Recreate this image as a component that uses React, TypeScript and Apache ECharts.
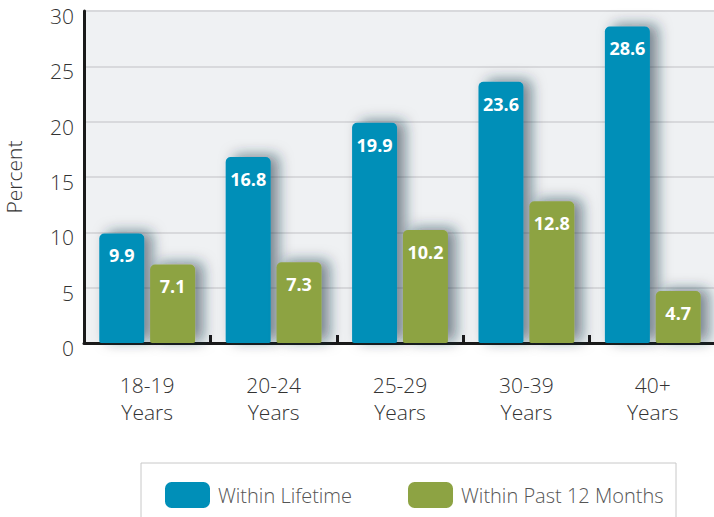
import React, { useEffect, useRef } from "react";
import * as echarts from "echarts";

const categories = ["18-19\nYears", "20-24\nYears", "25-29\nYears", "30-39\nYears", "40+\nYears"];
const lifetime = [9.9, 16.8, 19.9, 23.6, 28.6];
const past12 = [7.1, 7.3, 10.2, 12.8, 4.7];
const seriesNames = ["Within Lifetime", "Within Past 12 Months"];

const FONT = "'Open Sans', 'Noto Sans', sans-serif";
const BLUE = "#008fb8";
const GREEN = "#8da343";
const TEXT = "#333333";

export default function App() {
  const ref = useRef<HTMLDivElement>(null);

  useEffect(() => {
    if (!ref.current) return;
    const chart = echarts.init(ref.current, undefined, { renderer: "svg" });

    const barStyle = (color: string) => ({
      color,
      borderRadius: [5, 5, 2, 2],
      shadowColor: "rgba(20, 45, 60, 0.55)",
      shadowBlur: 14,
      shadowOffsetX: 8,
      shadowOffsetY: -2,
    });

    const barLabel = {
      show: true,
      position: "insideTop" as const,
      distance: 13,
      color: "#ffffff",
      fontFamily: FONT,
      fontWeight: "bold" as const,
      fontSize: 18,
      formatter: (p: any) => Number(p.value).toFixed(1),
    };

    chart.setOption({
      animation: false,
      backgroundColor: "#ffffff",
      grid: {
        show: true,
        left: 84,
        top: 11,
        width: 632,
        height: 332,
        outerBoundsMode: "none",
        containLabel: false,
        backgroundColor: "#eff1f3",
        borderWidth: 0,
      },
      legend: {
        left: 160,
        top: 477,
        itemWidth: 45,
        itemHeight: 26,
        itemGap: 56,
        icon: "roundRect",
        textStyle: { fontFamily: FONT, fontWeight: 300, fontSize: 20, color: "#555555", padding: [0, 0, 0, 3] },
        data: seriesNames,
      },
      graphic: [
        {
          type: "rect",
          shape: { x: 141, y: 463, width: 535, height: 80 },
          style: { fill: "none", stroke: "#c8c8c8", lineWidth: 1 },
          z: -1,
        },
      ],
      xAxis: {
        type: "category",
        data: categories,
        axisLine: { show: true, lineStyle: { color: "#1a1a1a", width: 3 } },
        axisTick: { show: true, inside: true, length: 8, lineStyle: { color: "#1a1a1a", width: 3 } },
        axisLabel: {
          fontFamily: FONT,
          fontWeight: 300,
          fontSize: 21,
          color: TEXT,
          lineHeight: 27,
          margin: 28,
        },
      },
      yAxis: {
        type: "value",
        min: 0,
        max: 30,
        interval: 5,
        name: "Percent",
        nameLocation: "middle",
        nameGap: 60,
        nameTextStyle: { fontFamily: FONT, fontWeight: 300, fontSize: 21, color: TEXT },
        axisLine: { show: true, lineStyle: { color: "#1a1a1a", width: 3 } },
        axisTick: { show: false },
        axisLabel: {
          fontFamily: FONT,
          fontWeight: 300,
          fontSize: 21,
          color: TEXT,
          margin: 10,
          verticalAlign: "top",
          lineHeight: 10,
        },
        splitLine: { show: true, lineStyle: { color: "#d8d9dc", width: 2 } },
      },
      series: [
        {
          name: seriesNames[0],
          type: "bar",
          data: lifetime,
          barWidth: 45,
          barGap: "13%",
          itemStyle: barStyle(BLUE),
          label: barLabel,
        },
        {
          name: seriesNames[1],
          type: "bar",
          data: past12,
          barWidth: 45,
          itemStyle: barStyle(GREEN),
          label: barLabel,
        },
      ],
    });

    return () => chart.dispose();
  }, []);

  return <div ref={ref} style={{ width: 714, height: 517, position: "absolute", left: 0, top: 0 }} />;
}
